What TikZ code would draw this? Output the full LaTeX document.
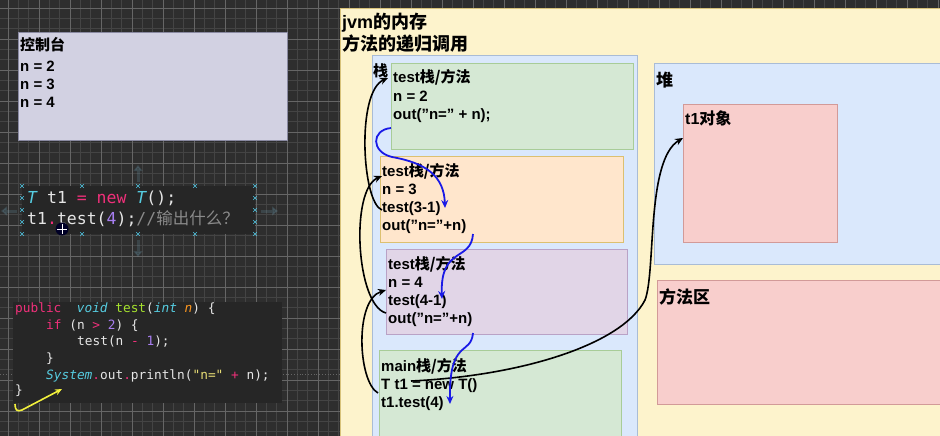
\documentclass[tikz,border=0pt]{standalone}
\usepackage{fontspec}
\setmainfont{Liberation Sans}
\newfontfamily\codefont{DejaVu Sans Mono}
\newfontfamily\cjk{Noto Sans CJK SC}
\usetikzlibrary{arrows.meta}
\definecolor{bgdark}{HTML}{2E2E2E}
\definecolor{gridminor}{HTML}{444444}
\definecolor{gridmajor}{HTML}{666666}
\definecolor{yellowbg}{HTML}{FDF3CC}
\definecolor{yellowbd}{HTML}{D8C27A}
\definecolor{bluebg}{HTML}{DAE8FC}
\definecolor{bluebd}{HTML}{A9BCD6}
\definecolor{greenbg}{HTML}{D5E8D4}
\definecolor{greenbd}{HTML}{A8CC98}
\definecolor{orangebg}{HTML}{FFE6CC}
\definecolor{orangebd}{HTML}{DCC070}
\definecolor{purplebg}{HTML}{E1D5E7}
\definecolor{purplebd}{HTML}{B9A2C6}
\definecolor{redbg}{HTML}{F8CECC}
\definecolor{redbd}{HTML}{D29A98}
\definecolor{consolebg}{HTML}{D2D1E2}
\definecolor{consolebd}{HTML}{8A8AA2}
\definecolor{codebg}{HTML}{262626}
\definecolor{cpink}{HTML}{F0307A}
\definecolor{ccyan}{HTML}{56CCE0}
\definecolor{cgreen}{HTML}{A6E22E}
\definecolor{corange}{HTML}{FD971F}
\definecolor{cpurple}{HTML}{A77EF0}
\definecolor{cyel}{HTML}{E6DB74}
\definecolor{cwhite}{HTML}{E6E6E6}
\definecolor{cgray}{HTML}{8A8A8A}
\definecolor{handle}{HTML}{4FC3E0}
\definecolor{arrowblue}{HTML}{1A1AE6}
\definecolor{arrowyel}{HTML}{F2F03C}
\tikzset{
  lbl/.style={anchor=base west, inner sep=0pt, font=\bfseries\fontsize{15}{18}\selectfont},
  title/.style={anchor=base west, inner sep=0pt, font=\bfseries\fontsize{18}{21}\selectfont},
  big/.style={anchor=base west, inner sep=0pt, font=\bfseries\fontsize{17}{20}\selectfont},
  codeA/.style={anchor=base west, inner sep=0pt, font=\codefont\fontsize{16.5}{19}\selectfont, text=cwhite},
  codeB/.style={anchor=base west, inner sep=0pt, font=\codefont\fontsize{12.8}{16}\selectfont, text=cwhite},
  blackarrow/.style={draw=black, line width=1.6pt, -{Stealth[length=8pt,width=7pt]}},
  bluearrow/.style={draw=arrowblue, line width=1.8pt, -{Stealth[length=8pt,width=7pt]}},
  hmark/.style={draw=handle, line width=0.6pt},
  ghost/.style={draw=gray!60!cyan, opacity=0.2, line width=3pt, -{Triangle[length=6pt,width=9pt]}},
}
\begin{document}
\begin{tikzpicture}[x=1pt,y=-1pt]
\useasboundingbox (0,0) rectangle (940,436);
% dark grid background
\fill[bgdark] (0,0) rectangle (940,436);
\foreach \i in {0,...,91} \draw[gridminor, line width=0.4pt] ({8+\i*10.333},0) -- ({8+\i*10.333},436);
\foreach \j in {0,...,42} \draw[gridminor, line width=0.4pt] (0,{8+\j*10.333}) -- (940,{8+\j*10.333});
\foreach \i in {0,...,30} \draw[gridmajor, line width=0.6pt] ({8+\i*31},0) -- ({8+\i*31},436);
\foreach \j in {0,...,14} \draw[gridmajor, line width=0.6pt] (0,{8+\j*31}) -- (940,{8+\j*31});
\draw[gridmajor, dotted, line width=0.8pt] (0,374) -- (340,374);

% console
\draw[fill=consolebg, draw=consolebd, line width=0.8pt] (18,32) rectangle (287,140);
\node[lbl] (con0) at (20,51) {\cjk 控制台};
\node[lbl] (con1) at (20,71) {n = 2};
\node[lbl] (con2) at (20,89) {n = 3};
\node[lbl] (con3) at (20,107) {n = 4};

% ghost move handles
\draw[ghost] (138,182) -- (138,165);
\draw[ghost] (138,240) -- (138,257);
\draw[ghost] (17,211) -- (1,211);
\draw[ghost] (261,211) -- (278,211);

% code box 1
\fill[codebg] (22,186) rectangle (255,234);
\node[codeA] (c1a) at (27,203) {\textcolor{ccyan}{\itshape T} t1 \textcolor{cpink}{=} \textcolor{cpink}{new} \textcolor{ccyan}{\itshape T}();};
\node[codeA] (c1b) at (27,224) {t1\textcolor{cpink}{.}test(\textcolor{cpurple}{4});\textcolor{cgray}{//{\cjk 输出什么？}}};
\foreach \x in {22,82,138,195,255} {
  \draw[hmark] (\x-1.8,184.2) -- (\x+1.8,187.8) (\x-1.8,187.8) -- (\x+1.8,184.2);
  \draw[hmark] (\x-1.8,232.2) -- (\x+1.8,235.8) (\x-1.8,235.8) -- (\x+1.8,232.2);
}
\foreach \y in {198,210,222} {
  \draw[hmark] (20.2,\y-1.8) -- (23.8,\y+1.8) (20.2,\y+1.8) -- (23.8,\y-1.8);
  \draw[hmark] (253.2,\y-1.8) -- (256.8,\y+1.8) (253.2,\y+1.8) -- (256.8,\y-1.8);
}
% cursor
\fill[black!85!blue] (62,229) circle (6.5);
\draw[white, line width=0.8pt] (57,229) -- (67,229) (62,224) -- (62,234);

% code box 2
\fill[codebg] (13,302) rectangle (282,403);
\node[codeB] (c2a) at (15,312) {\textcolor{cpink}{public}\ \ \textcolor{ccyan}{\itshape void} \textcolor{cgreen}{test}(\textcolor{ccyan}{\itshape int} \textcolor{corange}{\itshape n}) \{};
\node[codeB] (c2b) at (46,329) {\textcolor{cpink}{if} (n \textcolor{cpink}{>} \textcolor{cpurple}{2}) \{};
\node[codeB] (c2c) at (77,345) {test(n \textcolor{cpink}{-} \textcolor{cpurple}{1});};
\node[codeB] (c2d) at (46,362) {\}};
\node[codeB] (c2e) at (46,379) {\textcolor{ccyan}{\itshape System}\textcolor{cpink}{.}out\textcolor{cpink}{.}println(\textcolor{cyel}{"n="} \textcolor{cpink}{+} n);};
\node[codeB] (c2f) at (15,394) {\}};
\coordinate (ys) at (15,404);
\coordinate (ye) at (62,389);
\draw[arrowyel, line width=1.6pt, -{Stealth[length=7pt,width=6pt]}] (ys) .. controls (15,410) and (17,412) .. (22,410) -- (ye);

% right: jvm memory
\draw[fill=yellowbg, draw=yellowbd, line width=0.6pt] (340,8) rectangle (945,445);
\node[title] (t1) at (342,29) {jvm{\cjk 的内存}};
\node[title] (t2) at (342,51) {\cjk 方法的递归调用};

% stack
\draw[fill=bluebg, draw=bluebd, line width=0.8pt] (372,55) rectangle (637,450);
\node[lbl] (zhan) at (373,77) {\cjk 栈};

\draw[fill=greenbg, draw=greenbd, line width=0.8pt] (391,63) rectangle (633,149);
\node[lbl] (g1) at (393,83) {test{\cjk 栈/方法}};
\node[lbl] (g2) at (393,102) {n = 2};
\node[lbl] (g3) at (393,119) {out("n=" + n);};

\draw[fill=orangebg, draw=orangebd, line width=0.8pt] (380,156) rectangle (623,242);
\node[lbl] (o1) at (382,176) {test{\cjk 栈/方法}};
\node[lbl] (o2) at (382,194) {n = 3};
\node[lbl] (o3) at (382,212) {test(3-1)};
\node[lbl] (o4) at (382,230) {out("n="+n)};

\draw[fill=purplebg, draw=purplebd, line width=0.8pt] (386,249) rectangle (627,334);
\node[lbl] (p1) at (388,269) {test{\cjk 栈/方法}};
\node[lbl] (p2) at (388,287) {n = 4};
\node[lbl] (p3) at (388,305) {test(4-1)};
\node[lbl] (p4) at (388,323) {out("n="+n)};

\draw[fill=greenbg, draw=greenbd, line width=0.8pt] (379,350) rectangle (621,450);
\node[lbl] (m1) at (381,371) {main{\cjk 栈/方法}};
\node[lbl] (m2) at (381,389) {T t1 = new T()};
\node[lbl] (m3) at (381,407) {t1.test(4)};

% heap
\draw[fill=bluebg, draw=bluebd, line width=0.8pt] (654,63) rectangle (945,264);
\node[big] (dui) at (656,86) {\cjk 堆};
\draw[fill=redbg, draw=redbd, line width=0.8pt] (683,104) rectangle (837,242);
\node[lbl, font=\bfseries\fontsize{16}{19}\selectfont] (obj) at (685,124) {t1{\cjk 对象}};

% method area
\draw[fill=redbg, draw=redbd, line width=0.8pt] (657,280) rectangle (945,404);
\node[big] (ffq) at (659,303) {\cjk 方法区};

% black return arrows
\coordinate (a1s) at (378,393);
\coordinate (a1e) at (386,290);
\draw[blackarrow] (a1s) .. controls (358,382) and (354,300) .. (a1e);
\coordinate (a2s) at (386,313);
\coordinate (a2e) at (382,176);
\coordinate (a3s) at (382,210);
\coordinate (a3e) at (388,78);
\draw[blackarrow] (a2s) .. controls (356,305) and (350,190) .. (a2e);
\draw[blackarrow] (a3s) .. controls (362,203) and (356,92) .. (a3e);
% reference to object
\coordinate (a4s) at (411,381);
\coordinate (a4m) at (645,300);
\coordinate (a4e) at (683,138);
\draw[blackarrow] (a4s) .. controls (520,376) and (622,345) .. (a4m) .. controls (656,272) and (646,160) .. (a4e);

% blue call arrows
\coordinate (b1s) at (391,128);
\coordinate (b1m) at (392,157);
\coordinate (b1e) at (445,208);
\draw[bluearrow] (b1s) .. controls (371,130) and (371,152) .. (b1m) .. controls (426,163) and (444,176) .. (b1e);
\coordinate (b2s) at (473,234);
\coordinate (b2e) at (442,299);
\draw[bluearrow] (b2s) .. controls (471,262) and (440,246) .. (b2e);
\coordinate (b3s) at (473,333);
\coordinate (b3e) at (450,404);
\draw[bluearrow] (b3s) .. controls (471,356) and (449,338) .. (b3e);
\end{tikzpicture}
\end{document}
